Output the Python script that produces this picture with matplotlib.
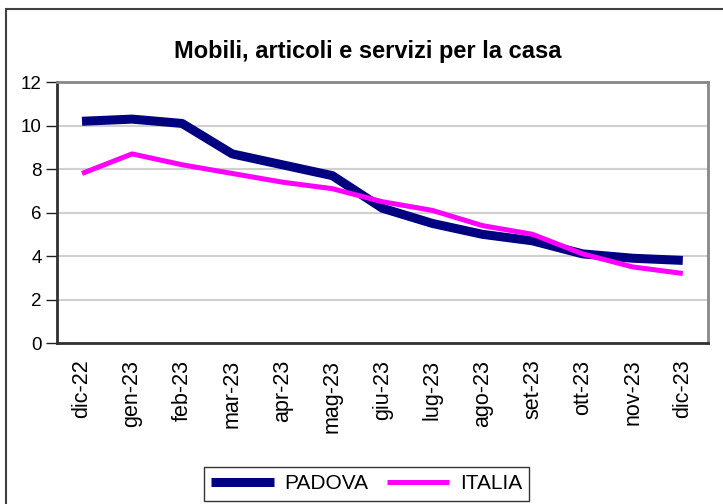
import matplotlib.pyplot as plt
from matplotlib.patches import Rectangle

plt.rcParams['font.family'] = ['Liberation Sans', 'DejaVu Sans']

months = ["dic-22", "gen-23", "feb-23", "mar-23", "apr-23", "mag-23", "giu-23",
          "lug-23", "ago-23", "set-23", "ott-23", "nov-23", "dic-23"]
padova = [10.2, 10.3, 10.1, 8.7, 8.2, 7.7, 6.2, 5.5, 5.0, 4.7, 4.1, 3.9, 3.8]
italia = [7.8, 8.7, 8.2, 7.8, 7.4, 7.1, 6.5, 6.1, 5.4, 5.0, 4.1, 3.5, 3.2]

fig = plt.figure(figsize=(7.23, 5.04), dpi=100)
ax = fig.add_axes([0.0788, 0.3194, 0.9002, 0.5176])

x = list(range(len(months)))
ax.plot(x, padova, color="#000080", lw=6.5, label="PADOVA", solid_capstyle="butt")
ax.plot(x, italia, color="#FF00FF", lw=3.6, label="ITALIA", solid_capstyle="butt")

ax.set_xlim(-0.5, len(months) - 0.5)
ax.set_ylim(0, 12)
ax.set_yticks(range(0, 13, 2))
ax.set_xticks(x)
ax.set_xticklabels(months, rotation=90, fontsize=15.5)
ax.tick_params(axis="x", length=0, pad=12)
ax.tick_params(axis="y", length=8, width=1, labelsize=13.5, color="#202020", pad=3)
ax.grid(axis="y", color="#d0d0d0", lw=1.5)
ax.set_axisbelow(True)

for side in ["top", "right"]:
    ax.spines[side].set_color("#888888")
    ax.spines[side].set_linewidth(2)
for side in ["left", "bottom"]:
    ax.spines[side].set_color("#303030")
    ax.spines[side].set_linewidth(2)

fig.text(0.508, 0.897, "Mobili, articoli e servizi per la casa", ha="center", va="center",
         fontsize=17, fontweight="bold")

leg = fig.legend(loc="upper center", bbox_to_anchor=(0.507, 0.0734), ncol=2, fontsize=15,
                 frameon=True, fancybox=False, edgecolor="black", handlelength=3.0,
                 borderpad=0.35, columnspacing=0.9, handletextpad=0.5, borderaxespad=0)
leg.get_frame().set_linewidth(1)

fig.patches.append(Rectangle((6 / 723, -0.1), 1.1, 1.1 - 9 / 504, transform=fig.transFigure,
                             fill=False, edgecolor="#404040", lw=1.5))

fig.savefig("out.png", dpi=100)
